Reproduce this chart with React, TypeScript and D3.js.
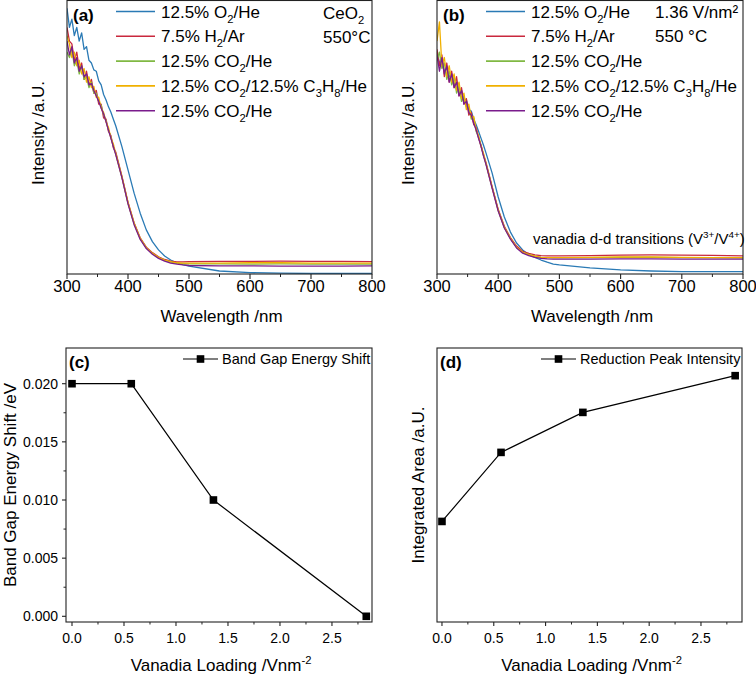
import React from 'react';
import * as d3 from 'd3';

const FONT = "'Liberation Sans', Arial, Helvetica, sans-serif";

// ---------- data ----------
const wavelengths = [300,304,308,312,316,320,324,328,332,336,340,344,348,352,356,360,364,368,372,376,380,390,400,410,420,430,440,450,460,470,480,490,500,550,600,650,700,750,800];

// panel (a) CeO2
const aO2He = [97,90,93,87,90,85,88,82,83,78,77,74.5,74,70.5,69,65.5,63.5,61,59,56.5,54,46.5,38,29.5,22.2,16.1,11.8,8.8,6.6,5.1,4.1,3.4,2.9,1.1,0.5,0.3,0.2,0.2,0.2];
const aH2Ar = [90,85,84,78,81,75,77,71,74,69,71,66,67,62,62,57,56.5,52,50.5,46,44.5,35.7,26.2,18.7,13.2,9.8,7.8,6.3,5.3,4.7,4.4,4.4,4.5,4.6,4.6,4.7,4.6,4.6,4.5];
const aCO2He = [81,79,82,76,78,73,76,71,72,68,70,66,66,63,61.5,58,56,52.5,50,46.5,43.8,35.3,25.8,18.3,12.9,9.5,7.5,6,5,4.3,3.9,3.7,3.7,3.7,3.6,3.7,3.6,3.6,3.6];
const aCO2C3H8 = [87,84,79,81,76,78,73,75,70,72,68,68.5,64.5,64.5,60.5,59,55.5,53.5,49.5,47.5,43.8,35.5,26,18.5,13,9.6,7.6,6.1,5.1,4.5,4.1,4,4,4,4.1,4.1,4,4,4];
const aCO2He2 = [85,80,83,77,79,74,76,72,73,69,69.5,67,65,63,60.5,58.5,55.5,52.5,49.5,46.5,43.5,35.2,25.6,18,12.6,9.3,7.2,5.7,4.7,4,3.6,3.3,3.1,3,3,2.9,2.9,2.9,3];

// panel (b) 1.36 V/nm2
const bO2He = [81,77,78,74,75,72,73,69,70,66,67,63,63.5,60,59.5,56.5,54.5,52,49.5,47,44.2,36.9,28.1,20.8,15.3,11.3,8.8,7,6.1,5.1,4.3,3.6,3.3,2.2,1.5,1.1,0.9,0.85,0.85];
const bH2Ar = [82,76,80,72,77,70,74,68,72,65,68,62,64,58,59,54.5,53.5,49.5,47,43.5,40.7,32,23.6,17.4,13.3,10.2,8.3,7.5,7,6.7,6.6,6.6,6.6,6.7,6.9,7,6.9,6.8,6.6];
const bCO2He = [78,81,75,77,71,74,69,72,66,69,63,65,61,61,56.5,57,52,50,46.8,43.2,40.3,31.6,23.2,17,12.9,9.7,7.9,7.1,6.5,6.1,6,6,6,6,6.1,6.1,6,6,5.9];
const bCO2C3H8 = [85,92,76,79,72,76,70,73,67,70,64,66,60,62,57,57.5,52.5,50.5,46.5,44,40.3,31.7,23.3,17.1,13,9.8,7.9,7.1,6.5,6.1,6,6,6,6.1,6.2,6.2,6.1,6,6];
const bCO2He2 = [80,74,79,73,76,70,73,68,70,65,67,62,63,59,58,55,52.5,49.5,46.5,43,40,31.4,23,16.8,12.7,9.5,7.6,6.7,6.1,5.7,5.5,5.4,5.4,5.4,5.5,5.5,5.4,5.4,5.4];

const wavelengthTicks = [300,400,500,600,700,800];

// panels (c), (d)
const vanadiaLoading = [0, 0.57, 1.36, 2.83];
const bandGapShift = [0.02, 0.02, 0.01, 0.0];
const reductionPeak = [0.367, 0.619, 0.765, 0.899];
const loadingTicks = [0, 0.5, 1.0, 1.5, 2.0, 2.5];
const shiftTicks = [0, 0.005, 0.01, 0.015, 0.02];

type Part = { t: string; sub?: boolean; sup?: boolean };
const legendLabels: Part[][] = [
  [{ t: '12.5% O' }, { t: '2', sub: true }, { t: '/He' }],
  [{ t: '7.5% H' }, { t: '2', sub: true }, { t: '/Ar' }],
  [{ t: '12.5% CO' }, { t: '2', sub: true }, { t: '/He' }],
  [{ t: '12.5% CO' }, { t: '2', sub: true }, { t: '/12.5% C' }, { t: '3', sub: true }, { t: 'H' }, { t: '8', sub: true }, { t: '/He' }],
  [{ t: '12.5% CO' }, { t: '2', sub: true }, { t: '/He' }],
];
const seriesColors = ['#2a7ab5', '#c9283d', '#80b843', '#f0b000', '#7a1c8c'];

// ---------- helpers ----------
function Rich({ x, y, parts, size, anchor = 'start', weight = 'normal' }: any) {
  let shift = 0;
  const spans = parts.map((p: Part, i: number) => {
    const target = p.sub ? size * 0.3 : p.sup ? -size * 0.4 : 0;
    const dy = target - shift;
    shift = target;
    return (
      <tspan key={i} dy={dy} fontSize={p.sub || p.sup ? size * 0.66 : size}>
        {p.t}
      </tspan>
    );
  });
  return (
    <text x={x} y={y} fontSize={size} textAnchor={anchor} fontFamily={FONT} fill="#000" fontWeight={weight}>
      {spans}
    </text>
  );
}

type Box = { left: number; right: number; top: number; bottom: number };

function SpectraPanel({ id, box, series, tag, notes, legendX, annotation, titleY }: any) {
  const b: Box = box;
  const x = d3.scaleLinear().domain([300, 800]).range([b.left, b.right]);
  const y = d3.scaleLinear().domain([0, 100]).range([b.bottom, b.top]);
  const line = d3
    .line<number>()
    .x((_, i) => x(wavelengths[i]))
    .y((d) => y(d));
  const minor = x.ticks(10).filter((t) => !wavelengthTicks.includes(t));
  const order = [0, 1, 2, 3, 4];
  return (
    <g>
      <defs>
        <clipPath id={id}>
          <rect x={b.left} y={b.top} width={b.right - b.left} height={b.bottom - b.top} />
        </clipPath>
      </defs>
      <g clipPath={`url(#${id})`}>
        {order.map((k) => (
          <path key={k} d={line(series[k]) || ''} fill="none" stroke={seriesColors[k]} strokeWidth={1.3} strokeLinejoin="round" />
        ))}
      </g>
      <rect x={b.left} y={b.top + 0.5} width={b.right - b.left} height={b.bottom - b.top - 0.5} fill="none" stroke="#222" strokeWidth={1.1} />
      {wavelengthTicks.map((t) => (
        <g key={t}>
          <line x1={x(t)} x2={x(t)} y1={b.bottom} y2={b.bottom + 5} stroke="#222" strokeWidth={1.1} />
          <text x={x(t)} y={b.bottom + 18} textAnchor="middle" fontSize={16.5} fontFamily={FONT}>
            {t}
          </text>
        </g>
      ))}
      {minor.map((t) => (
        <line key={t} x1={x(t)} x2={x(t)} y1={b.bottom} y2={b.bottom + 3} stroke="#222" strokeWidth={1} />
      ))}
      <text x={(b.left + b.right) / 2 + 2} y={322} textAnchor="middle" fontSize={17} fontFamily={FONT}>
        Wavelength /nm
      </text>
      <text
        transform={`translate(${b.left - 29},${titleY}) rotate(-90)`}
        textAnchor="middle"
        dominantBaseline="central"
        fontSize={17}
        fontFamily={FONT}
      >
        Intensity /a.U.
      </text>
      <text x={b.left + 6} y={21} fontSize={17} fontWeight="bold" fontFamily={FONT}>
        {tag}
      </text>
      {legendLabels.map((parts, i) => {
        const cy = 11.5 + i * 24.8;
        return (
          <g key={i}>
            <line x1={legendX} x2={legendX + 39} y1={cy} y2={cy} stroke={seriesColors[i]} strokeWidth={1.6} />
            <Rich x={legendX + 45} y={cy + 6} parts={parts} size={17} />
          </g>
        );
      })}
      {notes.map((n: any, i: number) => (
        <Rich key={i} x={n.x} y={n.y} parts={n.parts} size={17} />
      ))}
      {annotation}
    </g>
  );
}

function LoadingPanel({ box, domainX, domainY, values, tag, legend, legendX, yTitle, yTitleX, showY }: any) {
  const b: Box = box;
  const x = d3.scaleLinear().domain(domainX).range([b.left, b.right]);
  const y = d3.scaleLinear().domain(domainY).range([b.bottom, b.top]);
  const line = d3
    .line<number>()
    .x((_, i) => x(vanadiaLoading[i]))
    .y((d) => y(d));
  const minorX = d3.range(0, 2.9, 0.25).filter((t) => Math.abs((t / 0.5) - Math.round(t / 0.5)) > 1e-6);
  const minorY = d3.range(0.0025, 0.0201, 0.005);
  const cy = 359;
  return (
    <g>
      <rect x={b.left} y={b.top} width={b.right - b.left} height={b.bottom - b.top} fill="none" stroke="#222" strokeWidth={1.1} />
      <path d={line(values) || ''} fill="none" stroke="#000" strokeWidth={1.2} />
      {values.map((v: number, i: number) => (
        <rect key={i} x={x(vanadiaLoading[i]) - 3.8} y={y(v) - 3.8} width={7.6} height={7.6} fill="#000" />
      ))}
      {loadingTicks.map((t) => (
        <g key={t}>
          <line x1={x(t)} x2={x(t)} y1={b.bottom} y2={b.bottom + 4} stroke="#222" strokeWidth={1.1} />
          <text x={x(t)} y={643} textAnchor="middle" fontSize={14} fontFamily={FONT}>
            {d3.format('.1f')(t)}
          </text>
        </g>
      ))}
      {minorX.map((t: number) => (
        <line key={t} x1={x(t)} x2={x(t)} y1={b.bottom} y2={b.bottom + 2.5} stroke="#222" strokeWidth={1} />
      ))}
      {showY &&
        shiftTicks.map((t) => (
          <g key={t}>
            <line x1={b.left - 4} x2={b.left} y1={y(t)} y2={y(t)} stroke="#222" strokeWidth={1.1} />
            <text x={b.left - 8} y={y(t) + 5} textAnchor="end" fontSize={14} fontFamily={FONT}>
              {d3.format('.3f')(t)}
            </text>
          </g>
        ))}
      {showY &&
        minorY.map((t: number) => (
          <line key={t} x1={b.left - 2.5} x2={b.left} y1={y(t)} y2={y(t)} stroke="#222" strokeWidth={1} />
        ))}
      <Rich
        x={(b.left + b.right) / 2 + 2}
        y={671}
        anchor="middle"
        size={17}
        parts={[{ t: 'Vanadia Loading /Vnm' }, { t: '-2', sup: true }]}
      />
      <text
        transform={`translate(${yTitleX},${(b.top + b.bottom) / 2}) rotate(-90)`}
        textAnchor="middle"
        dominantBaseline="central"
        fontSize={17}
        fontFamily={FONT}
      >
        {yTitle}
      </text>
      <text x={b.left + 3} y={368} fontSize={17} fontWeight="bold" fontFamily={FONT}>
        {tag}
      </text>
      <line x1={legendX} x2={legendX + 35} y1={cy} y2={cy} stroke="#000" strokeWidth={1.2} />
      <rect x={legendX + 17.5 - 3.8} y={cy - 3.8} width={7.6} height={7.6} fill="#000" />
      <text x={legendX + 39} y={cy + 5} fontSize={14.5} fontFamily={FONT}>
        {legend}
      </text>
    </g>
  );
}

export default function App() {
  const boxA = { left: 67, right: 372, top: 0, bottom: 274 };
  const boxB = { left: 437, right: 743, top: 0, bottom: 274 };
  const boxC = { left: 66, right: 372, top: 348, bottom: 622 };
  const boxD = { left: 437, right: 742, top: 348, bottom: 622 };
  return (
    <svg width={756} height={677} style={{ position: 'absolute', left: 0, top: 0, background: '#fff' }} fontFamily={FONT}>
      <rect width={756} height={677} fill="#fff" />
      <SpectraPanel
        id="clipA"
        box={boxA}
        series={[aO2He, aH2Ar, aCO2He, aCO2C3H8, aCO2He2]}
        tag="(a)"
        legendX={116}
        titleY={133}
        notes={[
          { x: 323, y: 19, parts: [{ t: 'CeO' }, { t: '2', sub: true }] },
          { x: 323, y: 43, parts: [{ t: '550°C' }] },
        ]}
      />
      <SpectraPanel
        id="clipB"
        box={boxB}
        series={[bO2He, bH2Ar, bCO2He, bCO2C3H8, bCO2He2]}
        tag="(b)"
        legendX={486}
        titleY={133}
        notes={[
          { x: 655, y: 18, parts: [{ t: '1.36 V/nm²' }] },
          { x: 655, y: 42, parts: [{ t: '550 °C' }] },
        ]}
        annotation={
          <Rich
            x={533}
            y={244}
            size={15}
            parts={[
              { t: 'vanadia d-d transitions (V' },
              { t: '3+', sup: true },
              { t: '/V' },
              { t: '4+', sup: true },
              { t: ')' },
            ]}
          />
        }
      />
      <LoadingPanel
        box={boxC}
        domainX={[-0.0577, 2.885]}
        domainY={[-0.00049, 0.02307]}
        values={bandGapShift}
        tag="(c)"
        legend="Band Gap Energy Shift"
        legendX={183}
        yTitle="Band Gap Energy Shift /eV"
        yTitleX={10}
        showY={true}
      />
      <LoadingPanel
        box={boxD}
        domainX={[-0.048, 2.896]}
        domainY={[0, 1]}
        values={reductionPeak}
        tag="(d)"
        legend="Reduction Peak Intensity"
        legendX={541}
        yTitle="Integrated Area /a.U."
        yTitleX={418}
        showY={false}
      />
    </svg>
  );
}
